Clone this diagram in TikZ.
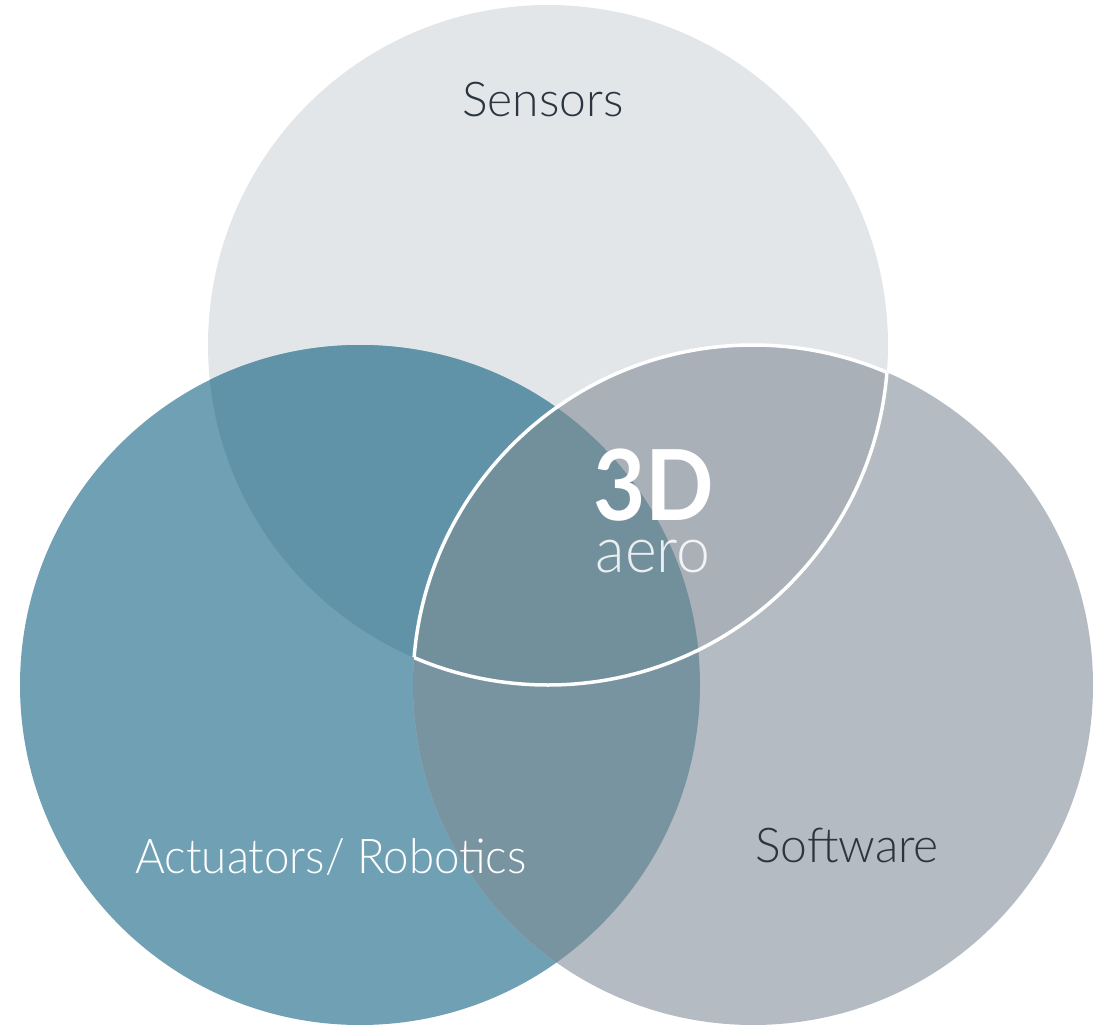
\documentclass[tikz,border=0pt]{standalone}
\usepackage{fontspec}
\IfFontExistsTF{Lato Light}{\setmainfont{Lato Light}}{\setmainfont{Lato}}
\newfontfamily\logobold{Lato}[UprightFont=* Bold]
\definecolor{sensorgray}{HTML}{E2E6E9}
\definecolor{actuteal}{HTML}{6FA0B4}
\definecolor{softgray}{HTML}{B4BBC2}
\definecolor{sensact}{HTML}{6093A8}
\definecolor{sensoft}{HTML}{A9B0B7}
\definecolor{actsoft}{HTML}{7894A0}
\definecolor{allthree}{HTML}{728F9C}
\definecolor{labeldark}{HTML}{2B3540}
\tikzset{
  setlabel/.style={inner sep=0pt, font=\fontsize{48}{52}\selectfont},
}
\begin{document}
\begin{tikzpicture}[x=1pt,y=-1pt]
                \useasboundingbox (0,0) rectangle (1104,1025);
                \coordinate (sens) at (548,345);
                \coordinate (act) at (360,685);
                \coordinate (soft) at (753,685);
                \fill[sensorgray] (sens) circle (340pt);
                \fill[actuteal] (act) circle (340pt);
                \fill[softgray] (soft) circle (340pt);
                % overlaps
                \begin{scope}
                    \clip (sens) circle (340pt);
                    \fill[sensact] (act) circle (340pt);
                    \fill[sensoft] (soft) circle (340pt);
                \end{scope}
                \begin{scope}
                    \clip (act) circle (340pt);
                    \fill[actsoft] (soft) circle (340pt);
                    \clip (sens) circle (340pt);
                    \fill[allthree] (soft) circle (340pt);
                \end{scope}
                % white lens
                \begin{scope}
                    \clip (sens) circle (340pt);
                    \draw[white, line width=3.5pt] (soft) circle (340pt);
                \end{scope}
                \begin{scope}
                    \clip (soft) circle (340pt);
                    \draw[white, line width=3.5pt] (sens) circle (340pt);
                \end{scope}
                \node[setlabel, text=labeldark] (sensors) at (543,100) {Sensors};
                \node[setlabel, text=white, xscale=.95] (actuators) at (331,857) {Actuators/ Robotics};
                \node[setlabel, text=labeldark] (software) at (847,845) {Software};
                % logo
                \node[inner sep=0pt, text depth=0pt, text=white, font=\logobold\fontsize{98}{98}\selectfont, xscale=.92, anchor=base] (logo3d) at (654,520) {3D};
                \node[inner sep=0pt, text height=.5em, text depth=0pt, text=white, opacity=.85, font=\fontsize{64}{64}\selectfont, xscale=.95, anchor=base] (logoaero) at (653,572) {aero};
            \end{tikzpicture}
\end{document}
